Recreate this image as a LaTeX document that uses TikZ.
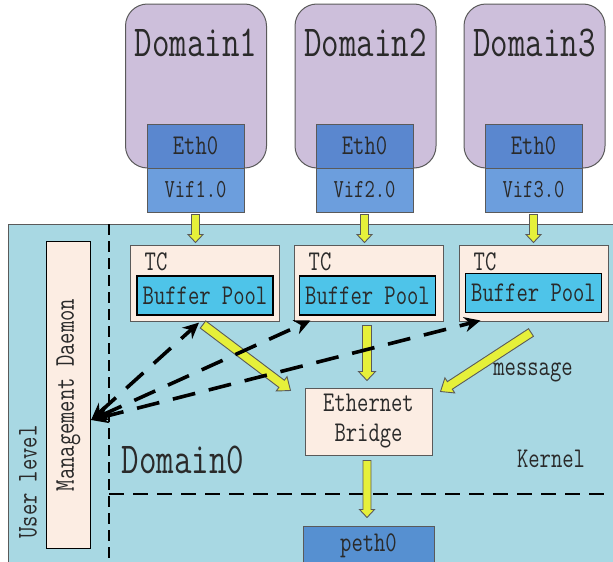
\documentclass[tikz,border=0pt]{standalone}
\usepackage{fontspec}
\usepackage{graphicx}
\usetikzlibrary{calc,arrows.meta}
\definecolor{lav}{HTML}{CDBFDB}
\definecolor{ethc}{HTML}{5A87CF}
\definecolor{vifc}{HTML}{6C9EDD}
\definecolor{bgc}{HTML}{A8D8E3}
\definecolor{linen}{HTML}{FCEDE3}
\definecolor{bpc}{HTML}{4EC4E9}
\definecolor{yel}{HTML}{E6F03A}
\definecolor{pethc}{HTML}{5690D1}
\definecolor{bord}{HTML}{5A5A5A}
\definecolor{txt}{HTML}{2A2A2A}
\newcommand\st[1]{\scalebox{1}[1.3]{#1}}
\newcommand\yarrow[5]{%
 \draw[yarr] let \p1=(#1), \p2=(#2), \n1={atan2(\y2-\y1,\x2-\x1)}, \n2={veclen(\x2-\x1,\y2-\y1)} in
 ($(\p1)+(\n1+90:#3)$) -- ($(\p1)+(\n1:\n2-#5)+(\n1+90:#3)$) -- ($(\p1)+(\n1:\n2-#5)+(\n1+90:#4)$) -- (\p2)
 -- ($(\p1)+(\n1:\n2-#5)+(\n1-90:#4)$) -- ($(\p1)+(\n1:\n2-#5)+(\n1-90:#3)$) -- ($(\p1)+(\n1-90:#3)$) -- cycle;}
\tikzset{
 yarr/.style={fill=yel, draw=bord, line width=0.9pt, line join=miter},
 dom/.style={draw=bord, fill=lav, line width=1pt, rounded corners=22pt, minimum width=141pt, minimum height=164pt, inner sep=0pt},
 eth/.style={draw=bord, fill=ethc, line width=1pt, minimum width=97pt, minimum height=44pt, inner sep=0pt, text=txt, font=\ttfamily\fontsize{22}{22}\selectfont},
 vif/.style={eth, fill=vifc, font=\ttfamily\fontsize{20}{20}\selectfont},
 tcbox/.style={draw=bord, fill=linen, line width=1pt, minimum width=149pt, minimum height=76pt, inner sep=0pt},
 bpbox/.style={draw=black, fill=bpc, line width=1.2pt, minimum width=136pt, minimum height=39pt, inner sep=0pt, text=txt, font=\ttfamily\fontsize{22}{22}\selectfont},
 lbl/.style={text=txt, inner sep=0pt, font=\ttfamily\fontsize{22}{22}\selectfont},
 big/.style={text=txt, inner sep=0pt, font=\ttfamily\fontsize{34}{34}\selectfont},
 mgr/.style={{Stealth[length=17pt,width=15pt]}-{Stealth[length=16pt,width=15pt]}, line width=3.6pt, dash pattern=on 23pt off 14pt, black},
}
\begin{document}
\begin{tikzpicture}[x=1pt,y=-1pt]
\useasboundingbox (0,0) rectangle (613,562);
% background
\draw[draw=bord, fill=bgc, line width=1pt] (8,224) rectangle (625,575);
% domains
\node[dom] (d1) at (196,86) {};
\node[dom] (d2) at (365.5,86) {};
\node[dom] (d3) at (534.5,86) {};
\node[big] (d1t) at (196,43) {\st{Domain1}};
\node[big] (d2t) at (365.5,43) {\st{Domain2}};
\node[big] (d3t) at (534.5,43) {\st{Domain3}};
\node[eth] (e1) at (195.5,146) {\st{Eth0}};
\node[eth] (e2) at (364.5,146) {\st{Eth0}};
\node[eth] (e3) at (533.5,146) {\st{Eth0}};
\node[vif] (v1) at (195.5,190) {\st{Vif1.0}};
\node[vif] (v2) at (364.5,190) {\st{Vif2.0}};
\node[vif] (v3) at (533.5,190) {\st{Vif3.0}};
% dashed separators
\coordinate (vtop) at (109,224);
\coordinate (vbot) at (109,562);
\coordinate (hl) at (109,494);
\coordinate (hr) at (613,494);
\draw[line width=1.6pt, dash pattern=on 11pt off 6pt] (vtop) -- (vbot);
\draw[line width=2.4pt, dash pattern=on 15pt off 9pt] (hl) -- (hr);
% TC boxes
\node[tcbox] (tc1) at (204.5,283) {};
\node[tcbox] (tc2) at (368.5,283) {};
\node[tcbox] (tc3) at (533.5,283) {};
\node[lbl, anchor=west] (tc1t) at ($(tc1.north west)+(15,17)$) {\st{TC}};
\node[lbl, anchor=west] (tc2t) at ($(tc2.north west)+(15,17)$) {\st{TC}};
\node[lbl, anchor=west] (tc3t) at ($(tc3.north west)+(15,17)$) {\st{TC}};
\node[bpbox] (bp1) at (205,295.5) {\st{Buffer Pool}};
\node[bpbox] (bp2) at (367.5,295.5) {\st{Buffer Pool}};
\node[bpbox] (bp3) at (533.5,293) {\st{Buffer Pool}};
% bridge, peth0, daemon
\node[tcbox, minimum width=127pt, minimum height=67pt, align=center, text=txt, font=\ttfamily\fontsize{22}{28}\selectfont] (br) at (368.5,421.5) {\st{Ethernet}\\[2pt]\st{Bridge}};
\node[draw=bord, fill=pethc, line width=1pt, minimum width=131pt, minimum height=40pt, inner sep=0pt, text=txt, font=\ttfamily\fontsize{22}{22}\selectfont] (peth) at (368.5,546) {\st{peth0}};
\node[tcbox, draw=black, minimum width=44.6pt, minimum height=307pt] (dm) at (68.3,394.5) {};
\node[lbl, rotate=90] (dmt) at (68.3,395) {\st{Management Daemon}};
\node[lbl, rotate=90] (ul) at (28,482) {\st{User level}};
\node[big] (d0) at (183,460) {\st{Domain0}};
\node[lbl] (kern) at (551,459) {\st{Kernel}};
\node[lbl] (msg) at (533,372) {\st{message}};
% yellow arrows
\yarrow{$(v1.south)+(0,2)$}{$(v1.south |- tc1.north)+(0,-2)$}{4pt}{7.5pt}{8pt}
\yarrow{$(v2.south)+(0,2)$}{$(v2.south |- tc2.north)+(0,-2)$}{4pt}{7.5pt}{8pt}
\yarrow{$(v3.south)+(0,2)$}{$(v3.south |- tc3.north)+(0,-2)$}{4pt}{7.5pt}{8pt}
\yarrow{$(tc1.south)+(-1.5,3)$}{$(br.north west)+(-14,3)$}{4.5pt}{9pt}{11pt}
\yarrow{$(tc2.south)+(-1.5,4)$}{$(br.north)+(-1.5,-7)$}{4.5pt}{8.5pt}{9pt}
\yarrow{$(tc3.south)+(-2.5,11)$}{$(br.north east)+(8,4)$}{4.5pt}{9pt}{11pt}
\yarrow{$(br.south)+(-1.5,5)$}{$(peth.north)+(-1.5,-8)$}{4pt}{7.5pt}{8pt}
% management arrows
\coordinate (dmp) at ($(dm.east)+(0,25.5)$);
\coordinate (t1) at ($(bp1.south)+(-6,7)$);
\coordinate (t2) at ($(tc2.south west)+(17,-1)$);
\coordinate (t3) at ($(tc3.south west)+(22,-1)$);
\draw[mgr] (dmp) -- (t1);
\draw[mgr] (dmp) -- (t2);
\draw[mgr] (dmp) -- (t3);
\end{tikzpicture}
\end{document}
